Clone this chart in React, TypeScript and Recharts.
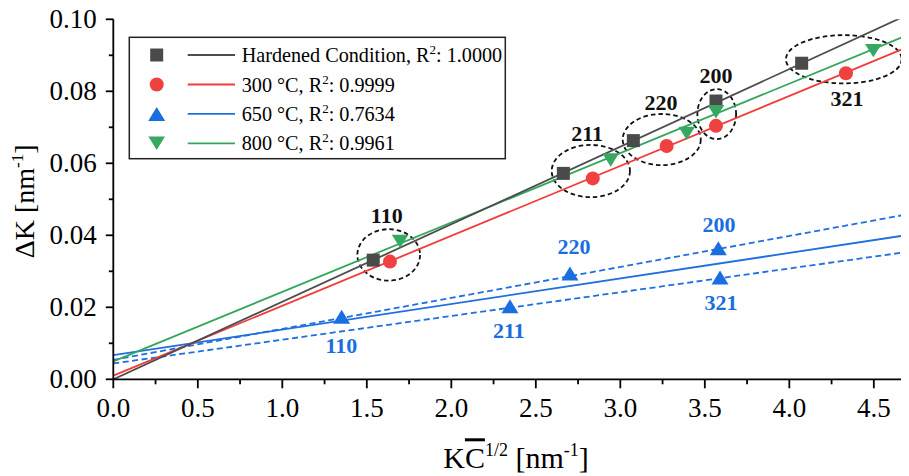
import React from 'react';
import { ComposedChart, Line, Scatter, XAxis, YAxis, ReferenceArea } from 'recharts';

const FONT = "'Liberation Serif', 'Times New Roman', Times, serif";

// ---------- data ----------
const xTicks = [0, 0.25, 0.5, 0.75, 1, 1.25, 1.5, 1.75, 2, 2.25, 2.5, 2.75, 3, 3.25, 3.5, 3.75, 4, 4.25, 4.5];
const yTicks = [0, 0.01, 0.02, 0.03, 0.04, 0.05, 0.06, 0.07, 0.08, 0.09, 0.1];
const xDomain = [0, 4.73];
const yDomain = [0, 0.1];

const hardenedPoints = [
  { x: 1.538, y: 0.0331 },
  { x: 2.663, y: 0.0572 },
  { x: 3.077, y: 0.0663 },
  { x: 3.566, y: 0.0773 },
  { x: 4.073, y: 0.0878 },
];
const t300Points = [
  { x: 1.637, y: 0.0327 },
  { x: 2.837, y: 0.0558 },
  { x: 3.274, y: 0.0648 },
  { x: 3.566, y: 0.0704 },
  { x: 4.335, y: 0.085 },
];
const t650Points = [
  { x: 1.351, y: 0.0174 },
  { x: 2.347, y: 0.0203 },
  { x: 2.702, y: 0.0294 },
  { x: 3.58, y: 0.0364 },
  { x: 3.59, y: 0.0283 },
];
const t800Points = [
  { x: 1.697, y: 0.0383 },
  { x: 2.943, y: 0.0609 },
  { x: 3.393, y: 0.0683 },
  { x: 3.566, y: 0.0743 },
  { x: 4.497, y: 0.0913 },
];

// fitted lines (end points)
const hardenedFit = [{ x: 0, y: 0.0 }, { x: 4.73, y: 0.1019 }];
const t300Fit = [{ x: 0, y: 0.001 }, { x: 4.73, y: 0.0929 }];
const t650Fit = [{ x: 0, y: 0.0067 }, { x: 4.73, y: 0.0403 }];
const t650Upper = [{ x: 0, y: 0.0054 }, { x: 4.73, y: 0.0461 }];
const t650Lower = [{ x: 0, y: 0.0044 }, { x: 4.73, y: 0.0356 }];
const t800Fit = [{ x: 0, y: 0.005 }, { x: 4.73, y: 0.0962 }];

const ellipses = [
  { x1: 1.444, x2: 1.815, y1: 0.0274, y2: 0.0417 },
  { x1: 2.594, x2: 3.057, y1: 0.0506, y2: 0.0651 },
  { x1: 3.014, x2: 3.476, y1: 0.0595, y2: 0.0737 },
  { x1: 3.456, x2: 3.685, y1: 0.0667, y2: 0.0806 },
  { x1: 3.98, x2: 4.665, y1: 0.0822, y2: 0.0956 },
];

const blackLabels = [
  { x: 1.618, y: 0.0456, t: '110' },
  { x: 2.803, y: 0.0682, t: '211' },
  { x: 3.241, y: 0.077, t: '220' },
  { x: 3.566, y: 0.0843, t: '200' },
  { x: 4.341, y: 0.0781, t: '321' },
];
const blueLabels = [
  { x: 1.349, y: 0.0093, t: '110' },
  { x: 2.34, y: 0.0134, t: '211' },
  { x: 2.726, y: 0.0368, t: '220' },
  { x: 3.584, y: 0.0429, t: '200' },
  { x: 3.596, y: 0.0212, t: '321' },
];

const legendNames = ['Hardened Condition', '300 °C', '650 °C', '800 °C'];
const legendR2 = ['1.0000', '0.9999', '0.7634', '0.9961'];

// ---------- styles ----------
const C_GRAY_M = '#4a4a4a';
const C_GRAY_L = '#4d4d4d';
const C_RED_M = '#f04141';
const C_RED_L = '#f03c3c';
const C_BLUE_M = '#1a6ee0';
const C_BLUE_L = '#1f6fe0';
const C_GREEN_M = '#36a862';
const C_GREEN_L = '#34a65c';

const isMajor = (v: number, step: number) => Math.abs(v / step - Math.round(v / step)) < 1e-6;

const BottomTick = (p: any) => {
  const { x, y, payload } = p;
  const v = payload.value;
  const major = isMajor(v, 0.5);
  return (
    <g>
      <line x1={x} y1={y} x2={x} y2={y + (major ? 9 : 5)} stroke="#000" strokeWidth={1.8} />
      {major && (
        <text x={x} y={y + 37.5} textAnchor="middle" fontSize={27} fontFamily={FONT} fill="#000">
          {v.toFixed(1)}
        </text>
      )}
    </g>
  );
};
const TopTick = (p: any) => {
  const { x, y, payload } = p;
  const major = isMajor(payload.value, 0.5);
  return <line x1={x} y1={y} x2={x} y2={y + (major ? 9 : 5)} stroke="#000" strokeWidth={1.8} />;
};
const LeftTick = (p: any) => {
  const { x, y, payload } = p;
  const v = payload.value;
  const major = isMajor(v, 0.02);
  return (
    <g>
      <line x1={x - (major ? 7.5 : 4.5)} y1={y} x2={x} y2={y} stroke="#000" strokeWidth={1.8} />
      {major && (
        <text x={x - 16.5} y={y + 9.1} textAnchor="end" fontSize={27} fontFamily={FONT} fill="#000">
          {v.toFixed(2)}
        </text>
      )}
    </g>
  );
};
const RightTick = (p: any) => {
  const { x, y, payload } = p;
  const major = isMajor(payload.value, 0.02);
  return <line x1={x - (major ? 9 : 5)} y1={y} x2={x} y2={y} stroke="#000" strokeWidth={1.8} />;
};

const SquareShape = (p: any) => (
  <rect x={p.cx - 6.5} y={p.cy - 6.5} width={13} height={13} fill={C_GRAY_M} />
);
const CircleShape = (p: any) => <circle cx={p.cx} cy={p.cy} r={7} fill={C_RED_M} />;
const TriUpShape = (p: any) => (
  <path d={`M${p.cx},${p.cy - 7} L${p.cx + 8.5},${p.cy + 7} L${p.cx - 8.5},${p.cy + 7} Z`} fill={C_BLUE_M} />
);
const TriDownShape = (p: any) => (
  <path d={`M${p.cx - 8.3},${p.cy - 6.7} L${p.cx + 8.3},${p.cy - 6.7} L${p.cx},${p.cy + 6.7} Z`} fill={C_GREEN_M} />
);
const makeLabel = (color: string) => (p: any) => (
  <text
    x={p.cx}
    y={p.cy + 7.4}
    textAnchor="middle"
    fontSize={22}
    fontWeight="bold"
    fontFamily={FONT}
    fill={color}
  >
    {p.payload.t}
  </text>
);
const BlackLabel = makeLabel('#111');
const BlueLabel = makeLabel('#1a6ee0');

const EllipseShape = (p: any) => {
  const { x, y, width, height } = p;
  return (
    <ellipse
      cx={x + width / 2}
      cy={y + height / 2}
      rx={Math.abs(width) / 2}
      ry={Math.abs(height) / 2}
      fill="none"
      stroke="#111"
      strokeWidth={1.8}
      strokeDasharray="4.5 3"
    />
  );
};

const XTitle = (p: any) => {
  const vb = p.viewBox || {};
  const cx = vb.x + vb.width / 2 + 3;
  return (
    <text x={cx} y={vb.y + 89} textAnchor="middle" fontSize={30} fontFamily={FONT} fill="#000">
      K<tspan textDecoration="overline">C</tspan>
      <tspan dy={-12} fontSize={18}>1/2</tspan>
      <tspan dy={12}> [nm</tspan>
      <tspan dy={-12} fontSize={18}>-1</tspan>
      <tspan dy={12}>]</tspan>
    </text>
  );
};
const YTitle = (p: any) => {
  const vb = p.viewBox || {};
  const cy = vb.y + vb.height / 2 + 2;
  const x = 26;
  return (
    <text x={x} y={cy} transform={`rotate(-90 ${x} ${cy})`} textAnchor="middle" fontSize={28} fontFamily={FONT} fill="#000">
      ΔK [nm<tspan dy={-11} fontSize={17}>-1</tspan>
      <tspan dy={11}>]</tspan>
    </text>
  );
};

const legendMarkers = [
  (cx: number, cy: number) => <rect x={cx - 6.5} y={cy - 6.5} width={13} height={13} fill={C_GRAY_M} />,
  (cx: number, cy: number) => <circle cx={cx} cy={cy} r={7} fill={C_RED_M} />,
  (cx: number, cy: number) => (
    <path d={`M${cx},${cy - 7} L${cx + 8.5},${cy + 7} L${cx - 8.5},${cy + 7} Z`} fill={C_BLUE_M} />
  ),
  (cx: number, cy: number) => (
    <path d={`M${cx - 8.3},${cy - 6.7} L${cx + 8.3},${cy - 6.7} L${cx},${cy + 6.7} Z`} fill={C_GREEN_M} />
  ),
];
const legendLineColors = [C_GRAY_L, C_RED_L, C_BLUE_L, C_GREEN_L];

const Legend2 = () => {
  const bx = 121.3;
  const by = 29.3;
  const bw = 376;
  const bh = 121.4;
  const rows = [17.7, 47.2, 76.6, 106];
  return (
    <svg width={915} height={468} style={{ position: 'absolute', left: 0, top: 0, pointerEvents: 'none' }}>
      <rect x={bx} y={by} width={bw} height={bh} fill="#fff" stroke="#222" strokeWidth={1.5} />
      {legendNames.map((n, i) => {
        const cy = by + rows[i];
        return (
          <g key={n}>
            {legendMarkers[i](bx + 27.4, cy)}
            <line x1={bx + 58.4} x2={bx + 105.7} y1={cy} y2={cy} stroke={legendLineColors[i]} strokeWidth={1.8} />
            <text x={bx + 112.4} y={cy + 7} fontSize={20.2} fontFamily={FONT} fill="#000">
              {n}, R<tspan dy={-8} fontSize={13}>2</tspan>
              <tspan dy={8}>: {legendR2[i]}</tspan>
            </text>
          </g>
        );
      })}
    </svg>
  );
};

export default function App() {
  return (
    <div style={{ position: 'relative', width: 915, height: 468 }}>
      <ComposedChart width={915} height={468} margin={{ top: 11.3, right: 10.3, bottom: 0, left: 0 }}>
        <XAxis
          xAxisId="b"
          dataKey="x"
          type="number"
          domain={xDomain}
          ticks={xTicks}
          interval={0}
          allowDataOverflow
          height={96.7}
          tickSize={0}
          tickMargin={0}
          tickLine={false}
          tick={BottomTick}
          axisLine={{ stroke: '#000', strokeWidth: 1.8 }}
          label={{ content: XTitle }}
        />
        <XAxis
          xAxisId="t"
          orientation="top"
          dataKey="x"
          type="number"
          domain={xDomain}
          ticks={xTicks}
          interval={0}
          allowDataOverflow
          height={0}
          tickSize={0}
          tickMargin={0}
          tickLine={false}
          tick={TopTick}
          axisLine={{ stroke: '#000', strokeWidth: 1.8 }}
        />
        <YAxis
          yAxisId="l"
          dataKey="y"
          type="number"
          domain={yDomain}
          ticks={yTicks}
          interval={0}
          allowDataOverflow
          width={105.3}
          tickSize={0}
          tickMargin={0}
          tickLine={false}
          tick={LeftTick}
          axisLine={{ stroke: '#000', strokeWidth: 1.8 }}
          label={{ content: YTitle }}
        />
        <YAxis
          yAxisId="r"
          orientation="right"
          dataKey="y"
          type="number"
          domain={yDomain}
          ticks={yTicks}
          interval={0}
          allowDataOverflow
          width={0}
          tickSize={0}
          tickMargin={0}
          tickLine={false}
          tick={RightTick}
          axisLine={{ stroke: '#000', strokeWidth: 1.8 }}
        />

        <Line xAxisId="b" yAxisId="l" data={t650Upper} dataKey="y" stroke={C_BLUE_L} strokeWidth={1.8} strokeDasharray="6 3.5" dot={false} isAnimationActive={false} />
        <Line xAxisId="b" yAxisId="l" data={t650Lower} dataKey="y" stroke={C_BLUE_L} strokeWidth={1.8} strokeDasharray="6 3.5" dot={false} isAnimationActive={false} />
        <Line xAxisId="b" yAxisId="l" data={t650Fit} dataKey="y" stroke={C_BLUE_L} strokeWidth={1.8} dot={false} isAnimationActive={false} />
        <Line xAxisId="b" yAxisId="l" data={t800Fit} dataKey="y" stroke={C_GREEN_L} strokeWidth={1.8} dot={false} isAnimationActive={false} />
        <Line xAxisId="b" yAxisId="l" data={t300Fit} dataKey="y" stroke={C_RED_L} strokeWidth={1.8} dot={false} isAnimationActive={false} />
        <Line xAxisId="b" yAxisId="l" data={hardenedFit} dataKey="y" stroke={C_GRAY_L} strokeWidth={1.8} dot={false} isAnimationActive={false} />

        <Scatter xAxisId="b" yAxisId="l" data={hardenedPoints} shape={SquareShape} isAnimationActive={false} />
        <Scatter xAxisId="b" yAxisId="l" data={t300Points} shape={CircleShape} isAnimationActive={false} />
        <Scatter xAxisId="b" yAxisId="l" data={t650Points} shape={TriUpShape} isAnimationActive={false} />
        <Scatter xAxisId="b" yAxisId="l" data={t800Points} shape={TriDownShape} isAnimationActive={false} />

        {ellipses.map((e, i) => (
          <ReferenceArea key={i} xAxisId="b" yAxisId="l" x1={e.x1} x2={e.x2} y1={e.y1} y2={e.y2} shape={EllipseShape} />
        ))}

        <Scatter xAxisId="b" yAxisId="l" data={blackLabels} shape={BlackLabel} isAnimationActive={false} />
        <Scatter xAxisId="b" yAxisId="l" data={blueLabels} shape={BlueLabel} isAnimationActive={false} />
      </ComposedChart>
      <Legend2 />
    </div>
  );
}
